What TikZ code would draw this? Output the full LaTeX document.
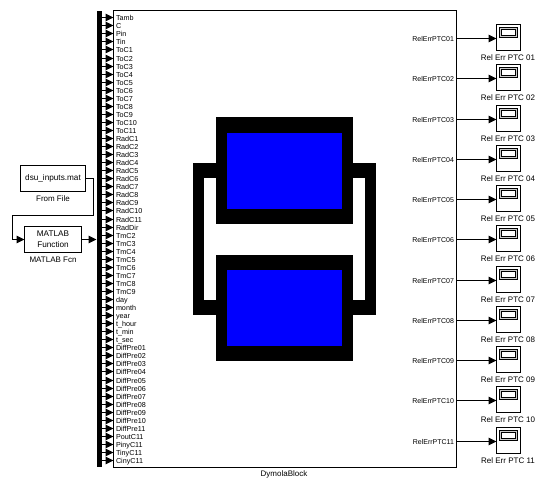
\documentclass[tikz,border=0pt]{standalone}
\usepackage{fontspec}
\setmainfont{Liberation Sans}
\usetikzlibrary{arrows.meta}
\definecolor{iconblue}{RGB}{0,0,255}
\tikzset{
    block/.style={draw, line width=1.3pt, fill=white, inner sep=0pt, outer sep=0pt, align=center, font=\fontsize{8.2}{11}\selectfont},
    bar/.style={fill=black, inner sep=0pt, outer sep=0pt},
    portlabel/.style={inner sep=0pt, outer sep=0pt, text height=5.2pt, text depth=0pt, font=\fontsize{7.2}{8}\selectfont},
    outlabel/.style={portlabel, font=\fontsize{7}{8}\selectfont},
    caption/.style={inner sep=0pt, outer sep=0pt, font=\fontsize{8}{9}\selectfont},
    signal/.style={line width=1pt, -{Triangle[length=8pt,width=7.5pt]}},
    viewer/.style={block, line width=1.4pt, minimum width=24pt, minimum height=26pt},
    screen/.style={draw, line width=.9pt, double=gray!40, double distance=.9pt, fill=white, inner sep=0pt, outer sep=0pt, minimum width=16.5pt, minimum height=8.5pt},
}
\begin{document}
\begin{tikzpicture}[x=1pt, y=-1pt]
    \useasboundingbox (0,0) rectangle (545,479);

    \node[block, line width=1pt, minimum width=343pt, minimum height=457pt] (dymola) at (285,239) {};
    \node[caption] (dymolaname) at (284,474) {DymolaBlock};
    \node[bar, minimum width=5pt, minimum height=456pt] (bus) at (99,239) {};

    % icon
    \fill[black] (193,163) rectangle (376,315);
    \fill[white] (204,178) rectangle (365,300);
    \fill[black] (216,117) rectangle (353,224);
    \fill[black] (216,255) rectangle (353,361);
    \fill[iconblue] (227,133) rectangle (342,209);
    \fill[iconblue] (227,270) rectangle (342,346);

    % inputs
    \foreach \name [count=\i] in {Tamb,C,Pin,Tin,ToC1,ToC2,ToC3,ToC4,ToC5,ToC6,ToC7,ToC8,ToC9,ToC10,ToC11,
        RadC1,RadC2,RadC3,RadC4,RadC5,RadC6,RadC7,RadC8,RadC9,RadC10,RadC11,RadDir,
        TmC2,TmC3,TmC4,TmC5,TmC6,TmC7,TmC8,TmC9,day,month,year,t\_hour,t\_min,t\_sec,
        DiffPre01,DiffPre02,DiffPre03,DiffPre04,DiffPre05,DiffPre06,DiffPre07,DiffPre08,DiffPre09,DiffPre10,DiffPre11,
        PoutC11,PinyC11,TinyC11,CinyC11} {
        \node[portlabel, anchor=west] (in\i) at (116,{round(9.2+8.05*\i)+.5}) {\name};
        \draw[signal] (bus.east |- in\i) -- (dymola.west |- in\i);
    }

    % sources
    \node[block, minimum width=65pt, minimum height=26pt] (fromfile) at (53,178.5) {dsu\_inputs.mat};
    \node[caption] (fromfilename) at (53,199) {From File};
    \node[block, minimum width=57pt, minimum height=26pt] (fcn) at (53,239.5) {MATLAB\\Function};
    \node[caption] (fcnname) at (53,259.5) {MATLAB Fcn};
    \coordinate (turnright) at (93.5,215.5);
    \coordinate (turnleft) at (12.5,215.5);
    \draw[signal] (fromfile.east) -| (turnright) -- (turnleft) |- (fcn.west);
    \draw[signal] (fcn.east) -- (bus.west |- fcn.east);

    % outputs
    \foreach \i [evaluate=\i as \y using {round(38+40.27*(\i-1))+.5}] in {1,...,11} {
        \ifnum\i<10 \def\num{0\i}\else \def\num{\i}\fi
        \node[outlabel, anchor=east] (out\i) at (454,\y) {RelErrPTC\num};
        \node[viewer] (scope\i) at (508.5,\y-1) {};
        \node[screen] (screen\i) at (508.5,\y-6) {};
        \node[caption] (scopename\i) at (508,\y+19) {Rel Err PTC \num};
        \draw[signal] (dymola.east |- out\i) -- (scope\i.west |- out\i);
    }
\end{tikzpicture}
\end{document}
